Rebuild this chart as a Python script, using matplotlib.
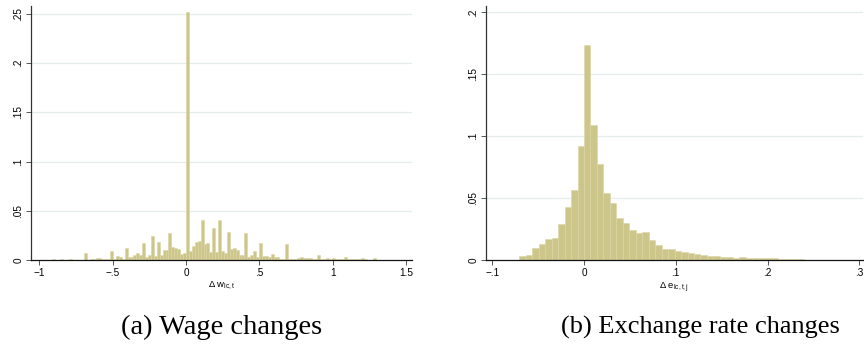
import numpy as np
import matplotlib
matplotlib.use("Agg")
import matplotlib.pyplot as plt

# ---------------- data ----------------
# (a) wage changes: fraction per bin
wage_bin_start = -0.995
wage_bin_width = 0.0199
wage_frac = [
    0.0002, 0.0003, 0.0003, 0.0004, 0.0014, 0.0003, 0.0003, 0.0010, 0.0003, 0.0004,
    0.0012, 0.0004, 0.0004, 0.0004, 0.0005, 0.0075, 0.0005, 0.0007, 0.0007, 0.0020,
    0.0020, 0.0014, 0.0014, 0.0014, 0.0092, 0.0006, 0.0041, 0.0030, 0.0015, 0.0123,
    0.0030, 0.0026, 0.0050, 0.0070, 0.0051, 0.0172, 0.0032, 0.0050, 0.0246, 0.0041,
    0.0184, 0.0050, 0.0104, 0.0104, 0.0274, 0.0134, 0.0120, 0.0110, 0.0060, 0.0072,
    0.2520, 0.0092, 0.0140, 0.0184, 0.0192, 0.0402, 0.0164, 0.0172, 0.0082, 0.0329,
    0.0080, 0.0402, 0.0091, 0.0068, 0.0280, 0.0112, 0.0125, 0.0102, 0.0051, 0.0051,
    0.0278, 0.0034, 0.0052, 0.0095, 0.0028, 0.0168, 0.0042, 0.0042, 0.0030, 0.0063,
    0.0033, 0.0032, 0.0012, 0.0012, 0.0165, 0.0012, 0.0012, 0.0014, 0.0025, 0.0030,
    0.0017, 0.0022, 0.0020, 0.0010, 0.0008, 0.0051, 0.0007, 0.0008, 0.0022, 0.0014,
    0.0016, 0.0010, 0.0010, 0.0010, 0.0035, 0.0007, 0.0006, 0.0006, 0.0006, 0.0007,
    0.0022, 0.0006, 0.0005, 0.0005, 0.0017, 0.0005, 0.0005, 0.0005, 0.0004, 0.0003,
]

# (b) exchange rate changes: fraction per bin
fx_bin_start = -0.0705
fx_bin_width = 0.00705
fx_frac = [
    0.0032, 0.0038, 0.0097, 0.0126, 0.0169, 0.0177, 0.0288, 0.0427, 0.0565, 0.0925,
    0.1734, 0.1089, 0.0774, 0.0540, 0.0462, 0.0341, 0.0300, 0.0245, 0.0221, 0.0225,
    0.0163, 0.0121, 0.0088, 0.0091, 0.0074, 0.0065, 0.0056, 0.0048, 0.0042, 0.0036,
    0.0030, 0.0028, 0.0022, 0.0018, 0.0024, 0.0016, 0.0016, 0.0016, 0.0015, 0.0013,
    0.0008, 0.0008, 0.0006, 0.0005, 0.0004, 0.0003, 0.0003,
]

wage_xticks = [-1, -0.5, 0, 0.5, 1, 1.5]
wage_xticklabels = ["\u22121", "\u2212.5", "0", ".5", "1", "1.5"]
wage_yticks = [0, 0.05, 0.1, 0.15, 0.2, 0.25]
wage_yticklabels = ["0", ".05", ".1", ".15", ".2", ".25"]

fx_xticks = [-0.1, 0, 0.1, 0.2, 0.3]
fx_xticklabels = ["\u2212.1", "0", ".1", ".2", ".3"]
fx_yticks = [0, 0.05, 0.1, 0.15, 0.2]
fx_yticklabels = ["0", ".05", ".1", ".15", ".2"]

wage_xlabel = r"$\Delta$ w$_{\mathrm{lc,t}}$"
fx_xlabel = r"$\Delta$ e$_{\mathrm{lc,t,j}}$"
caption_a = "(a) Wage changes"
caption_b = "(b) Exchange rate changes"

# ---------------- style ----------------
plt.rcParams["font.family"] = ["Liberation Sans", "DejaVu Sans"]
plt.rcParams["mathtext.fontset"] = "custom"
plt.rcParams["mathtext.rm"] = "Liberation Sans"
plt.rcParams["mathtext.it"] = "Liberation Sans:italic"

BAR = "#cdc68b"
EDGE = "#dbd5a5"
GRID = "#e4ecec"

W, H = 864, 354
fig = plt.figure(figsize=(W / 100, H / 100), dpi=100)


def make_axes(px_left, px_right, px_top, px_bottom):
    return fig.add_axes([px_left / W, 1 - px_bottom / H,
                         (px_right - px_left) / W, (px_bottom - px_top) / H])


def style(ax, xticks, xtl, yticks, ytl, xlabel):
    ax.set_xticks(xticks)
    ax.set_xticklabels(xtl)
    ax.set_yticks(yticks)
    ax.set_yticklabels(ytl, rotation=90, va="center")
    for s in ["top", "right"]:
        ax.spines[s].set_visible(False)
    ax.spines["left"].set_color("#333333")
    ax.spines["bottom"].set_color("#111111")
    ax.spines["left"].set_linewidth(0.9)
    ax.spines["bottom"].set_linewidth(0.9)
    ax.tick_params(axis="both", direction="out", length=3.5, width=0.7,
                   color="#555555", labelsize=7.2, pad=2)
    for y in yticks[1:]:
        ax.axhline(y, color=GRID, lw=0.9, zorder=0)
    ax.set_xlabel(xlabel, fontsize=6.8, labelpad=2)


# left panel
ax1 = make_axes(31, 412, 6, 260)
e1 = wage_bin_start + wage_bin_width * np.arange(len(wage_frac))
ax1.bar(e1, wage_frac, width=wage_bin_width, align="edge",
        color=BAR, edgecolor=EDGE, linewidth=0.4, zorder=2)
ax1.set_xlim(-1.0566, 1.5405)
ax1.set_ylim(0, 0.2581)
style(ax1, wage_xticks, wage_xticklabels, wage_yticks, wage_yticklabels, wage_xlabel)

# right panel
ax2 = make_axes(486, 863, 6, 260)
e2 = fx_bin_start + fx_bin_width * np.arange(len(fx_frac))
ax2.bar(e2, fx_frac, width=fx_bin_width, align="edge",
        color=BAR, edgecolor=EDGE, linewidth=0.4, zorder=2)
ax2.set_xlim(-0.1068, 0.304)
ax2.set_ylim(0, 0.2052)
style(ax2, fx_xticks, fx_xticklabels, fx_yticks, fx_yticklabels, fx_xlabel)

# captions
serif = ["Liberation Serif", "DejaVu Serif"]
fig.text(221.5 / W, 1 - 327 / H, caption_a, ha="center", va="center",
         fontsize=20.5, family=serif)
fig.text(700 / W, 1 - 327 / H, caption_b, ha="center", va="center",
         fontsize=19, family=serif)

fig.savefig("out.png", dpi=100)
